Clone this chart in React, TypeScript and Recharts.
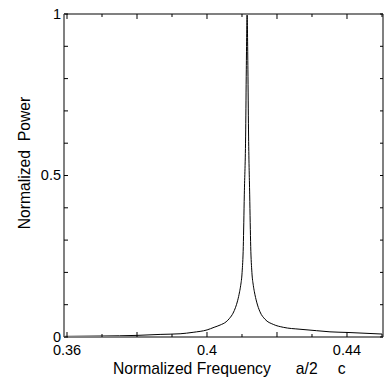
import { LineChart, Line, XAxis, YAxis } from 'recharts';

// normalized frequency (a/2πc) and normalized power
const freq = [
  0.35914, 0.36, 0.37, 0.38, 0.3866, 0.39231, 0.39603, 0.40003, 0.40203,
  0.40374, 0.40546, 0.40646, 0.40746, 0.40817, 0.40874, 0.40931, 0.40963,
  0.41003, 0.41037, 0.41066, 0.41106, 0.41123, 0.41146, 0.41169, 0.41186,
  0.4122, 0.41249, 0.41283, 0.41323, 0.41354, 0.4142, 0.41514, 0.41657,
  0.41894, 0.4218, 0.42657, 0.43134, 0.43514, 0.44029, 0.45029,
];
const power = [
  0.002, 0.002, 0.003, 0.005, 0.008, 0.010, 0.0145, 0.022, 0.030,
  0.037, 0.047, 0.058, 0.074, 0.092, 0.112, 0.14, 0.16,
  0.2, 0.28, 0.44, 0.641, 0.827, 1.0, 0.827, 0.641,
  0.44, 0.28, 0.2, 0.16, 0.14, 0.108, 0.078, 0.055,
  0.039, 0.030, 0.024, 0.0195, 0.016, 0.014, 0.009,
];

const xTicks = [0.36, 0.37, 0.38, 0.39, 0.40, 0.41, 0.42, 0.43, 0.44, 0.45];
const xTickLabels = ['0.36', '0.4', '0.44'];
const yTicks = [0, 0.1, 0.2, 0.3, 0.4, 0.5, 0.6, 0.7, 0.8, 0.9, 1];
const yTickLabels = ['0', '0.5', '1'];

const data = freq.map((f, i) => ({ f, p: power[i] }));

const FONT = '"Liberation Sans", Arial, sans-serif';
const AXIS = { stroke: '#808080', strokeWidth: 2 };
const fmt = (v: number) => String(Number(v.toFixed(2)));

function BottomTick({ x, y, payload }: any) {
  const label = fmt(payload.value);
  const major = Math.round(payload.value * 100) % 2 === 0;
  return (
    <g>
      <line x1={x} x2={x} y1={y} y2={y - (major ? 5 : 3)} stroke="#000" strokeWidth={1} />
      {xTickLabels.includes(label) && (
        <text x={x} y={y + 17.5} textAnchor="middle" fontSize={14.5} fill="#000">{label}</text>
      )}
    </g>
  );
}

function TopTick({ x, y, payload }: any) {
  const major = Math.round(payload.value * 100) % 2 === 0;
  return <line x1={x} x2={x} y1={y} y2={y + (major ? 5 : 3)} stroke="#000" strokeWidth={1} />;
}

function LeftTick({ x, y, payload }: any) {
  const label = fmt(payload.value);
  return (
    <g>
      <line x1={x} x2={x + 4} y1={y} y2={y} stroke="#000" strokeWidth={1} />
      {yTickLabels.includes(label) && (
        <text x={x - 3} y={y + 4.5} textAnchor="end" fontSize={14.5} fill="#000">{label}</text>
      )}
    </g>
  );
}

function RightTick({ x, y }: any) {
  return <line x1={x} x2={x - 3} y1={y} y2={y} stroke="#000" strokeWidth={1} />;
}

function XTitle() {
  return (
    <text x={113} y={374} fontSize={15.7} fill="#000" fontFamily={FONT}>
      Normalized Frequency
      <tspan dx={25}>a/2</tspan>
      <tspan dx={20}>c</tspan>
    </text>
  );
}

function YTitle() {
  return (
    <text
      x={30}
      y={163}
      fontSize={15.7}
      fill="#000"
      textAnchor="middle"
      transform="rotate(-90 30 163)"
      style={{ whiteSpace: 'pre' }}
    >
      {'Normalized  Power'}
    </text>
  );
}

export default function App() {
  return (
    <div style={{ position: 'absolute', left: 0, top: 0, background: '#fff' }}>
      <LineChart
        width={384}
        height={378}
        data={data}
        margin={{ top: 13, right: 0, bottom: 0, left: 0 }}
        style={{ fontFamily: FONT }}
      >
        <XAxis
          dataKey="f"
          type="number"
          domain={[0.35914, 0.45029]}
          allowDataOverflow
          ticks={xTicks}
          interval={0}
          height={41}
          tickSize={0}
          tickMargin={0}
          tickLine={false}
          axisLine={AXIS}
          tick={<BottomTick />}
          label={<XTitle />}
        />
        <XAxis
          xAxisId="top"
          orientation="top"
          dataKey="f"
          type="number"
          domain={[0.35914, 0.45029]}
          allowDataOverflow
          ticks={xTicks}
          interval={0}
          height={1}
          tickSize={0}
          tickMargin={0}
          tickLine={false}
          axisLine={AXIS}
          tick={<TopTick />}
        />
        <YAxis
          type="number"
          domain={[0, 1]}
          allowDataOverflow
          ticks={yTicks}
          interval={0}
          width={64}
          tickSize={0}
          tickMargin={0}
          tickLine={false}
          axisLine={AXIS}
          tick={<LeftTick />}
          label={<YTitle />}
        />
        <YAxis
          yAxisId="right"
          orientation="right"
          type="number"
          domain={[0, 1]}
          allowDataOverflow
          ticks={yTicks}
          interval={0}
          width={1}
          tickSize={0}
          tickMargin={0}
          tickLine={false}
          axisLine={AXIS}
          tick={<RightTick />}
        />
        <Line
          xAxisId="top"
          yAxisId="right"
          dataKey="p"
          stroke="none"
          dot={false}
          activeDot={false}
          isAnimationActive={false}
        />
        <Line
          dataKey="p"
          type="monotone"
          stroke="#000"
          strokeWidth={1}
          dot={false}
          activeDot={false}
          isAnimationActive={false}
        />
      </LineChart>
    </div>
  );
}
